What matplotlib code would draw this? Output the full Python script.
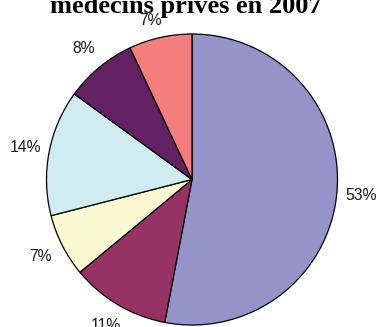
import matplotlib
matplotlib.use("Agg")
import matplotlib.pyplot as plt
import numpy as np

# Share of private physicians by category, 2007
shares = [53, 11, 7, 14, 8, 7]
labels = ["53%", "11%", "7%", "14%", "8%", "7%"]
colors = ["#9494C8", "#963264", "#FBF9D2", "#D0ECF2", "#632062", "#F47D7D"]
title = "médecins privés en 2007"

fig = plt.figure(figsize=(3.77, 3.27), dpi=100)
ax = fig.add_axes([0, 0, 1, 1])
ax.set_axis_off()

wedges, texts = ax.pie(
    shares,
    labels=labels,
    colors=colors,
    startangle=90,
    counterclock=False,
    radius=1.0,
    labeldistance=1.165,
    wedgeprops=dict(edgecolor="black", linewidth=0.9),
    textprops=dict(family="Liberation Sans", fontsize=11.3, color="#1a1a1a"),
)
for t in texts:
    t.set_ha("center")
    t.set_va("center")

# pull the top label a little closer so it clears the title
last = wedges[-1]
mid = np.deg2rad(0.5 * (last.theta1 + last.theta2) + 2.0)
texts[-1].set_position((1.13 * np.cos(mid), 1.13 * np.sin(mid)))

ax.set_xlim(-1.3196, 1.2715)
ax.set_ylim(-1.0137, 1.2337)
ax.set_aspect("auto")

fig.text(186 / 377, (327 - 13) / 327, title, ha="center", va="baseline",
         family="Liberation Serif", fontweight="bold", fontsize=19)

fig.savefig("out.png", dpi=100)
